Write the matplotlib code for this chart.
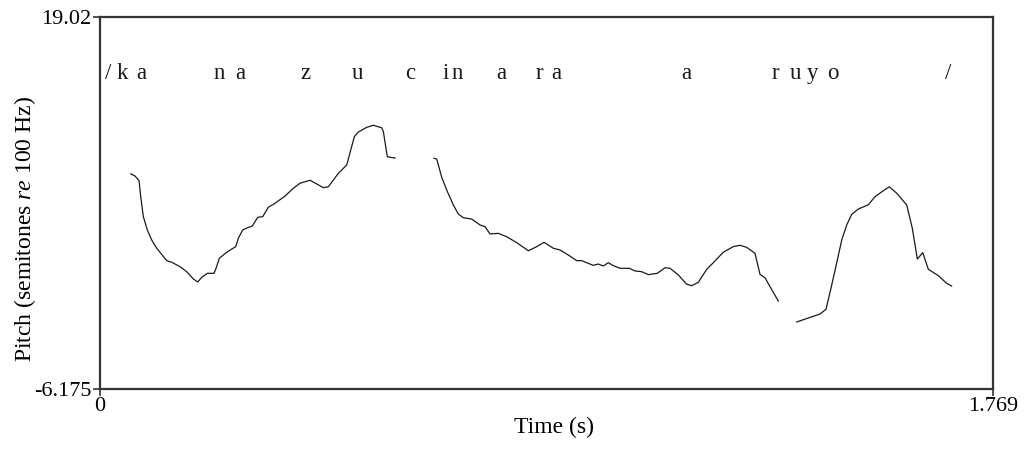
import matplotlib
matplotlib.use("Agg")
import matplotlib.pyplot as plt

plt.rcParams["font.family"] = ["Liberation Serif", "DejaVu Serif"]
plt.rcParams["mathtext.fontset"] = "custom"
plt.rcParams["mathtext.rm"] = "Liberation Serif"
plt.rcParams["mathtext.it"] = "Liberation Serif:italic"

# Pitch track (time in s, pitch in semitones re 100 Hz), three voiced stretches
t1 = [0.0608, 0.0693, 0.0773, 0.0806, 0.0858, 0.0937, 0.1024, 0.1123, 0.1321, 0.1420,
      0.1585, 0.1718, 0.1848, 0.1935, 0.2015, 0.2126, 0.2258, 0.2298, 0.2363, 0.2510,
      0.2688, 0.2740, 0.2827, 0.2906, 0.3017, 0.3124, 0.3223, 0.3334, 0.3467, 0.3665,
      0.3829, 0.3962, 0.4160, 0.4424, 0.4523, 0.4721, 0.4853, 0.4887, 0.5038, 0.5117,
      0.5283, 0.5414, 0.5580, 0.5612, 0.5691, 0.5745, 0.5844]
p1 = [8.41, 8.27, 7.95, 6.87, 5.51, 4.61, 3.93, 3.37, 2.53, 2.42,
      2.12, 1.78, 1.29, 1.08, 1.40, 1.67, 1.67, 2.01, 2.69, 3.10,
      3.48, 4.05, 4.61, 4.74, 4.88, 5.47, 5.51, 6.15, 6.42, 6.91,
      7.44, 7.78, 7.98, 7.48, 7.54, 8.45, 8.90, 9.02, 10.94, 11.25,
      11.57, 11.71, 11.54, 11.29, 9.58, 9.54, 9.49]

t2 = [0.6616, 0.6670, 0.6769, 0.6868, 0.6999, 0.7098, 0.7197, 0.7363, 0.7528, 0.7627,
      0.7726, 0.7890, 0.8057, 0.8255, 0.8485, 0.8651, 0.8796, 0.8980, 0.9113, 0.9277,
      0.9443, 0.9542, 0.9641, 0.9772, 0.9871, 0.9970, 1.0069, 1.0168, 1.0301, 1.0485,
      1.0598, 1.0731, 1.0862, 1.1040, 1.1193, 1.1292, 1.1456, 1.1622, 1.1721, 1.1852,
      1.2019, 1.2149, 1.2347, 1.2546, 1.2678, 1.2811, 1.2975, 1.3074, 1.3173, 1.3273,
      1.3437]
p2 = [9.47, 9.42, 8.18, 7.32, 6.30, 5.69, 5.44, 5.35, 4.95, 4.83,
      4.34, 4.38, 4.15, 3.75, 3.20, 3.48, 3.77, 3.37, 3.25, 2.91,
      2.53, 2.53, 2.39, 2.21, 2.30, 2.17, 2.39, 2.19, 2.01, 2.01,
      1.83, 1.78, 1.58, 1.67, 2.05, 2.01, 1.56, 0.93, 0.83, 1.06,
      1.94, 2.39, 3.10, 3.48, 3.57, 3.43, 3.03, 1.60, 1.37, 0.76,
      -0.21]

t3 = [1.3802, 1.4031, 1.4263, 1.4382, 1.4495, 1.4606, 1.4693, 1.4792, 1.4891, 1.5022,
      1.5220, 1.5353, 1.5517, 1.5636, 1.5783, 1.5981, 1.6092, 1.6191, 1.6298, 1.6409,
      1.6607, 1.6773, 1.6870]
p3 = [-1.63, -1.36, -1.09, -0.77, 0.88, 2.57, 3.93, 4.95, 5.67, 6.03,
      6.32, 6.87, 7.27, 7.54, 7.10, 6.30, 4.72, 2.64, 3.07, 1.94,
      1.51, 0.99, 0.81]

# Phonetic transcription, one symbol per entry, placed at its start time
symbols = ["/", "k", "a", "n", "a", "z", "u", "c", "i", "n", "a", "r", "a",
           "a", "r", "u", "y", "o", "/"]
symbol_times = [0.0099, 0.0331, 0.0727, 0.2245, 0.2674, 0.3962, 0.4986, 0.6042,
                0.6789, 0.6967, 0.7859, 0.8631, 0.8948, 1.1523, 1.3306, 1.3669,
                1.4000, 1.4396, 1.6739]
symbol_level = 14.88

x_min, x_max = 0.0, 1.769
y_min, y_max = -6.175, 19.02

fig = plt.figure(figsize=(10.27, 4.53), dpi=100)
ax = fig.add_axes([0.0974, 0.1413, 0.8695, 0.8201])

line_kw = dict(color="#1a1a1a", linewidth=0.9, solid_joinstyle="round")
for t, p in [(t1, p1), (t2, p2), (t3, p3)]:
    ax.plot(t, p, **line_kw)

for s, t in zip(symbols, symbol_times):
    ax.text(t, symbol_level, s, ha="left", va="baseline", fontsize=16.5, color="#1a1a1a")

ax.set_xlim(x_min, x_max)
ax.set_ylim(y_min, y_max)
ax.set_xticks([x_min, x_max])
ax.set_xticklabels(["0", "1.769"])
ax.set_yticks([y_min, y_max])
ax.set_yticklabels(["-6.175", "19.02"])
ax.tick_params(direction="out", length=5, width=1.2, color="#333333",
               labelsize=16, pad=1)

for sp in ax.spines.values():
    sp.set_linewidth(1.6)
    sp.set_color("#333333")

ax.set_xlabel("Time (s)", fontsize=17)
ax.xaxis.set_label_coords(0.508, -0.075)
ax.set_ylabel(r"Pitch (semitones $\mathit{re}$ 100 Hz)", fontsize=17)
ax.yaxis.set_label_coords(-0.069, 0.43)

fig.savefig("out.png", dpi=100)
